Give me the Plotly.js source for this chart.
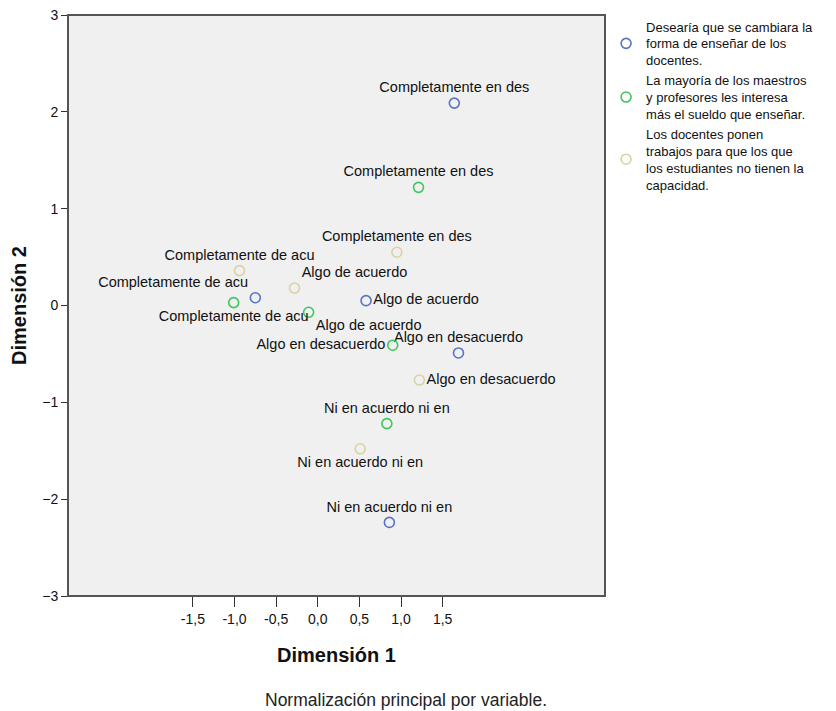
<!DOCTYPE html>
<html>
<head>
<meta charset="utf-8">
<script src="https://cdn.plot.ly/plotly-3.0.1.min.js"></script>
<style>
  body { margin: 0; background: #fff; }
  #chart { width: 836px; height: 711px; }
</style>
</head>
<body>
<div id="chart"></div>
<script>
// Categorías de respuesta (etiquetas truncadas como en SPSS)
const categorias = [
    "Completamente en des",
    "Completamente de acu",
    "Algo de acuerdo",
    "Algo en desacuerdo",
    "Ni en acuerdo ni en"
];

const variables = [
    "Desearía que se cambiara la<br>forma de enseñar de los<br>docentes.",
    "La mayoría de los maestros<br>y profesores les interesa<br>más el sueldo que enseñar.",
    "Los docentes ponen<br>trabajos para que los que<br>los estudiantes no tienen la<br>capacidad."
];

// Coordenadas de las categorías (Dimensión 1, Dimensión 2)
const dim1Desearia = [1.64, -0.75, 0.58, 1.69, 0.86];
const dim2Desearia = [2.09, 0.08, 0.05, -0.49, -2.24];

const dim1Mayoria = [1.21, -1.01, -0.11, 0.90, 0.83];
const dim2Mayoria = [1.22, 0.03, -0.07, -0.41, -1.22];

const dim1Docentes = [0.95, -0.94, -0.28, 1.22, 0.51];
const dim2Docentes = [0.55, 0.36, 0.18, -0.77, -1.48];

const ticksX = [-1.5, -1.0, -0.5, 0.0, 0.5, 1.0, 1.5];
const ticksY = [-3, -2, -1, 0, 1, 2, 3];

// =========================================================================

const fuente = "Liberation Sans, Arial, sans-serif";

function serie(nombre, x, y, color, posiciones) {
    return {
        name: nombre,
        x: x,
        y: y,
        text: categorias,
        type: "scatter",
        mode: "markers+text",
        textposition: posiciones,
        textfont: { family: fuente, size: 14.5, color: "#111" },
        cliponaxis: false,
        marker: {
            size: 10,
            symbol: "circle-open",
            color: color,
            line: { width: 1.6, color: color }
        }
    };
}

const data = [
    serie(variables[0], dim1Desearia, dim2Desearia, "#5b72c8",
        ["top center", "top left", "middle right", "top center", "top center"]),
    serie(variables[1], dim1Mayoria, dim2Mayoria, "#3cc85a",
        ["top center", "bottom center", "bottom right", "middle left", "top center"]),
    serie(variables[2], dim1Docentes, dim2Docentes, "#d8d3a0",
        ["top center", "top center", "top right", "middle right", "bottom center"])
];

const layout = {
    width: 836,
    height: 711,
    // sin autoexpand para que la leyenda no encoja el marco
    margin: { l: 68, r: 231, t: 15, b: 115, autoexpand: false },
    paper_bgcolor: "#ffffff",
    plot_bgcolor: "#f0f0f0",
    font: { family: fuente, size: 14, color: "#111" },
    showlegend: true,
    legend: {
        x: 1.002, xanchor: "left",
        y: 1.006, yanchor: "top",
        font: { family: fuente, size: 13, color: "#111" },
        itemwidth: 30,
        tracegroupgap: 0,
        bgcolor: "rgba(0,0,0,0)"
    },
    xaxis: {
        range: [-3.0, 3.45],
        tickvals: ticksX,
        ticktext: ticksX.map(v => v.toFixed(1).replace(".", ",")),
        ticks: "outside",
        ticklen: 10,
        tickcolor: "#333",
        showgrid: false,
        zeroline: false,
        showline: false,
        tickfont: { size: 14 },
        title: { text: "<b>Dimensión 1</b>", font: { size: 20 }, standoff: 22 }
    },
    yaxis: {
        range: [-3, 3],
        tickvals: ticksY,
        ticks: "outside",
        ticklen: 6,
        tickcolor: "#333",
        showgrid: false,
        zeroline: false,
        showline: false,
        tickfont: { size: 14 },
        title: { text: "<b>Dimensión 2</b>", font: { size: 20 }, standoff: 10 }
    },
    shapes: [{
        type: "rect", xref: "paper", yref: "paper",
        x0: 0, x1: 1, y0: 0, y1: 1,
        line: { color: "#555", width: 2 }
    }],
    annotations: [{
        text: "Normalización principal por variable.",
        xref: "paper", yref: "paper",
        x: 0.63, y: -0.179, xanchor: "center", yanchor: "middle",
        showarrow: false,
        font: { family: fuente, size: 17.5, color: "#222" }
    }]
};

Plotly.newPlot("chart", data, layout, { displayModeBar: false, staticPlot: true });
</script>
</body>
</html>
